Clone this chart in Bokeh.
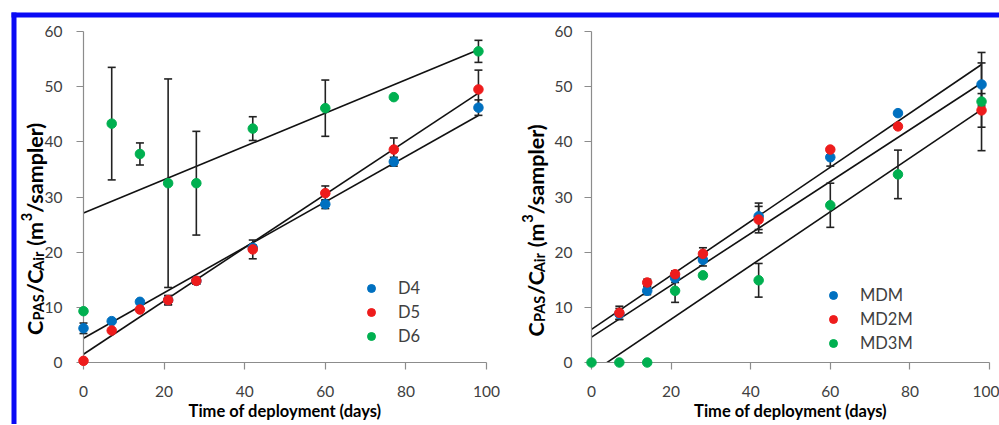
import math
from bokeh.plotting import figure
from bokeh.models import Legend, LegendItem, FixedTicker
from bokeh.layouts import row
from bokeh.embed import file_html
from bokeh.resources import INLINE
from bokeh.core.properties import value

# ---------------- data ----------------
x_ticks = [0, 20, 40, 60, 80, 100]
y_ticks = [0, 10, 20, 30, 40, 50, 60]

days = [0, 7, 14, 21, 28, 42, 60, 77, 98]

# left panel (cyclic siloxanes)
d4 = [6.2, 7.5, 11.0, 11.3, 14.8, 20.8, 28.7, 36.4, 46.2]
d4_err = [0.95, 0, 0, 0.8, 0.6, 0.5, 0.8, 0.8, 1.4]
d5 = [0.3, 5.8, 9.6, 11.3, 14.8, 20.5, 30.7, 38.6, 49.5]
d5_err = [0, 0, 0, 0.85, 0.6, 1.7, 1.3, 2.1, 3.5]
d6 = [9.3, 43.3, 37.8, 32.5, 32.5, 42.4, 46.1, 48.1, 56.4]
d6_err = [0, 10.2, 2.0, 18.9, 9.4, 2.15, 5.1, 0, 2.0]
# regression lines: [intercept, slope]
d4_fit = [4.4, 0.412]
d5_fit = [1.5, 0.483]
d6_fit = [27.1, 0.302]

# right panel (linear siloxanes)
mdm_days = [7, 14, 21, 28, 42, 60, 77, 98]
mdm = [8.8, 13.0, 15.3, 18.6, 26.5, 37.2, 45.2, 50.4]
mdm_err = [1.0, 0.7, 0.8, 1.1, 2.4, 1.6, 0.3, 3.9]
md2m_days = [7, 14, 21, 28, 42, 60, 77, 98]
md2m = [9.0, 14.5, 16.0, 19.7, 25.9, 38.6, 42.8, 45.7]
md2m_err = [1.2, 0.6, 0.6, 1.1, 2.4, 0.3, 0.3, 3.05]
md3m_days = [0, 7, 14, 21, 28, 42, 60, 77, 98]
md3m = [0, 0, 0, 13.0, 15.8, 14.9, 28.5, 34.1, 47.3]
md3m_err = [0, 0, 0, 2.1, 0.4, 3.05, 4.0, 4.4, 8.9]
mdm_fit = [6.0, 0.490]
md2m_fit = [4.6, 0.470]
md3m_fit = [-1.9, 0.487]

left_names = ["D4", "D5", "D6"]
right_names = ["MDM", "MD2M", "MD3M"]
x_title = "Time of deployment (days)"
# (text, kind): 0 normal, 1 subscript, -1 superscript, 2 plain gap (space)
y_title_parts = [("C", 0), ("PAS", 1), ("/C", 0), ("Air", 1), (" ", 2), ("(m", 0),
                 ("3", -1), ("/sampler)", 0)]

# ---------------- style ----------------
C_BLUE = "#0070C0"
C_RED = "#EE1C1C"
C_GREEN = "#00B050"
FRAME_BLUE = "#0A0AF5"
AXIS_GRAY = "#8C8C8C"
TICK_TXT = "#404040"
ERR_COL = "#222222"
FONT = "Lato"
TITLE_SIZE = 16.5
YT_SIZE = 21.5
YT_SUB = 14.5

# approximate Lato Bold advance widths (em) for laying out the rich y-title
W = {"C": 0.67, "P": 0.63, "A": 0.71, "S": 0.53, "/": 0.38, "i": 0.26, "r": 0.40,
     " ": 0.24, "(": 0.30, "m": 0.84, "3": 0.58, "s": 0.44, "a": 0.51, "p": 0.57,
     "l": 0.25, "e": 0.53, ")": 0.30}

# page geometry in px (page origin = top-left of the picture)
FIG_H = 424
TOP, FRAME_H = 31, 331
BOTTOM = FIG_H - TOP - FRAME_H
L = dict(x0=0, width=510, left=83, right=24)     # left figure
R = dict(x0=510, width=489, left=81, right=10)   # right figure


def text_w(t, size):
    return sum(W.get(ch, 0.55) for ch in t) * size


def make_fig(g, label_standoff):
    p = figure(width=g["width"], height=FIG_H, x_range=(0, 100), y_range=(0, 60),
               output_backend="svg", toolbar_location=None,
               min_border_left=g["left"], min_border_right=g["right"],
               min_border_top=TOP, min_border_bottom=BOTTOM)
    p.xaxis.ticker = FixedTicker(ticks=x_ticks)
    p.yaxis.ticker = FixedTicker(ticks=y_ticks)
    for ax in (p.xaxis[0], p.yaxis[0]):
        ax.axis_line_color = AXIS_GRAY
        ax.axis_line_width = 1.2
        ax.major_tick_line_color = AXIS_GRAY
        ax.major_tick_line_width = 1.2
        ax.minor_tick_line_color = None
        ax.major_tick_out = 7
        ax.major_tick_in = 0
        ax.major_label_text_font = FONT
        ax.major_label_text_font_size = "15.5px"
        ax.major_label_text_color = TICK_TXT
    p.xaxis.major_label_standoff = 16
    p.yaxis.major_label_standoff = label_standoff
    p.xgrid.visible = False
    p.ygrid.visible = False
    p.outline_line_color = None
    p.background_fill_color = "white"
    p.border_fill_color = "white"
    return p


def px_scales(g):
    fw = g["width"] - g["left"] - g["right"]
    fl = g["x0"] + g["left"]
    fb = TOP + FRAME_H
    return fl, fb, fw / 100.0, FRAME_H / 60.0


def add_fit(p, fit, xmax):
    b, m = fit
    p.line([0, xmax], [b, b + m * xmax], line_color="#111111", line_width=1.6)


def add_err(p, xs, ys, errs):
    xe = [x for x, e in zip(xs, errs) if e > 0]
    lo = [y - e for y, e in zip(ys, errs) if e > 0]
    hi = [y + e for y, e in zip(ys, errs) if e > 0]
    p.segment(xe, lo, xe, hi, line_color=ERR_COL, line_width=1.6, level="overlay")
    p.scatter(xe + xe, lo + hi, marker="dash", size=8, line_color=ERR_COL,
              line_width=1.6, level="overlay")


def add_pts(p, xs, ys, color):
    return p.scatter(xs, ys, marker="circle", size=9.5, fill_color=color,
                     line_color=color, level="overlay")


def add_text(p, x, y, t, size, angle=0.0, x_off=0, align="left", baseline="alphabetic"):
    p.text(x=[x], y=[y], text=[t], angle=angle, x_offset=x_off,
           text_font=value(FONT), text_font_size=value(f"{size}px"),
           text_font_style=value("bold"), text_color=value("black"),
           text_align=value(align), text_baseline=value(baseline), level="overlay")


def add_titles(p, ppu_y, yc, x_off, xt_px):
    # x-axis title, xt_px pixels below the x axis
    add_text(p, 50, -xt_px / ppu_y, x_title, TITLE_SIZE, align="center", baseline="middle")
    # rotated y-axis title with sub/superscripts
    widths = [text_w(t, YT_SUB if k in (1, -1) else YT_SIZE) for t, k in y_title_parts]
    pos = -sum(widths) / 2
    for (t, k), w in zip(y_title_parts, widths):
        if k != 2:
            size = YT_SUB if k in (1, -1) else YT_SIZE
            shift = 0.17 * YT_SIZE if k == 1 else (-0.36 * YT_SIZE if k == -1 else 0)
            add_text(p, 0, yc + pos / ppu_y, t, size, angle=math.pi / 2, x_off=x_off + shift)
        pos += w


def add_legend(p, names, renderers, loc):
    items = [LegendItem(label=n, renderers=[r]) for n, r in zip(names, renderers)]
    lg = Legend(items=items, location=loc, glyph_width=20, glyph_height=20,
                label_standoff=17, spacing=4, padding=0, margin=0,
                border_line_color=None, background_fill_alpha=0,
                label_text_font=FONT, label_text_font_size="16.5px",
                label_text_color=TICK_TXT, label_height=20)
    p.add_layout(lg)


def add_frame_bars(p, fl, fb, ppx, ppy, x_from, x_to, with_left):
    # blue page frame (top bar; left bar on the left figure), given in page pixels
    def q(x0, x1, y0, y1):
        p.quad(left=[(x0 - fl) / ppx], right=[(x1 - fl) / ppx],
               top=[(fb - y0) / ppy], bottom=[(fb - y1) / ppy],
               fill_color=FRAME_BLUE, line_color=None, level="overlay")
    q(x_from, x_to, 12, 17)
    if with_left:
        q(11, 16, 12, 440)


xmax = max(days)

# ---------------- left panel ----------------
p1 = make_fig(L, 14)
fl1, fb1, ppx1, ppy1 = px_scales(L)
for f in (d4_fit, d5_fit, d6_fit):
    add_fit(p1, f, xmax)
for ys, es in ((d4, d4_err), (d5, d5_err), (d6, d6_err)):
    add_err(p1, days, ys, es)
r_left = [add_pts(p1, days, ys, c) for ys, c in ((d4, C_BLUE), (d5, C_RED), (d6, C_GREEN))]
add_legend(p1, left_names, r_left, (278, 16))
add_titles(p1, ppy1, (fb1 - 228) / ppy1, -49, 48)
add_frame_bars(p1, fl1, fb1, ppx1, ppy1, 11, 530, True)

# ---------------- right panel ----------------
p2 = make_fig(R, 12)
fl2, fb2, ppx2, ppy2 = px_scales(R)
for f in (mdm_fit, md2m_fit, md3m_fit):
    add_fit(p2, f, xmax)
for xs, ys, es in ((mdm_days, mdm, mdm_err), (md2m_days, md2m, md2m_err), (md3m_days, md3m, md3m_err)):
    add_err(p2, xs, ys, es)
r_right = [add_pts(p2, xs, ys, c) for xs, ys, c in
           ((mdm_days, mdm, C_BLUE), (md2m_days, md2m, C_RED), (md3m_days, md3m, C_GREEN))]
add_legend(p2, right_names, r_right, (232, 9))
add_titles(p2, ppy2, (fb2 - 229.5) / ppy2, -56, 48)
add_frame_bars(p2, fl2, fb2, ppx2, ppy2, 500, 1010, False)

layout = row(p1, p2)
open("out.html", "w").write(file_html(layout, INLINE))
